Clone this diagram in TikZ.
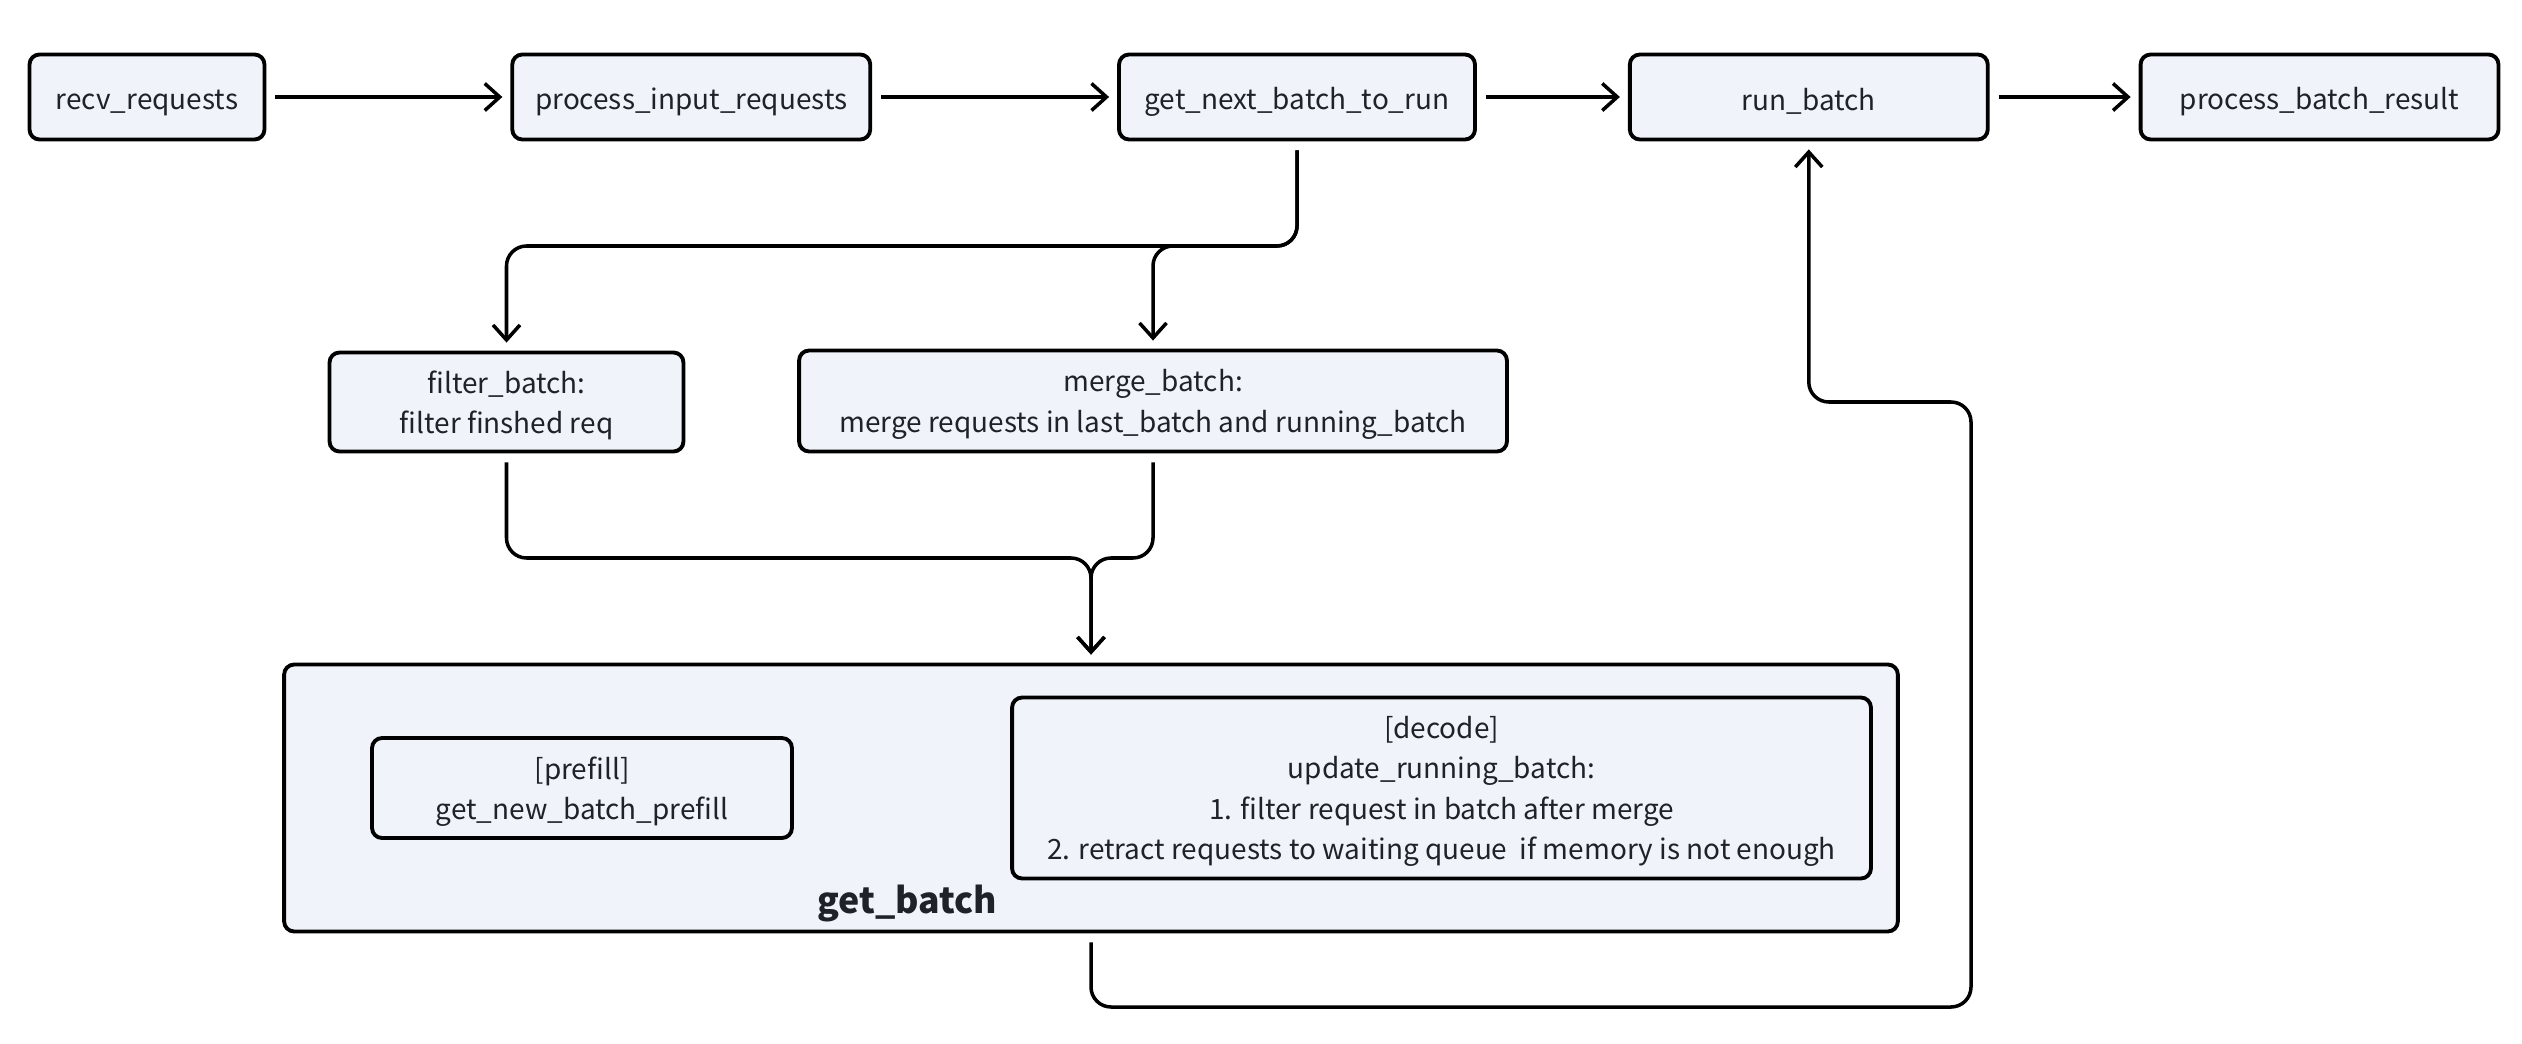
\documentclass[tikz,border=0pt]{standalone}
\usepackage{fontspec}
\setmainfont{Noto Sans CJK SC}
\usetikzlibrary{positioning}
\usetikzlibrary{arrows.meta}
\definecolor{boxfill}{HTML}{F0F3FA}
\definecolor{boxtext}{HTML}{1F2329}
\tikzset{
fn/.style={
  rectangle,rounded corners=0.2cm,
  draw=black,line width=2.2pt,
  fill=boxfill,text=boxtext,
  inner sep=0pt,
  %text width set per node
  align=center,
  minimum height=1.7cm,
  font=\fontsize{15.9}{23}\selectfont,
  execute at begin node={\rule{0pt}{1.12em}}
  },
fnlines/.style={
  fn,
  text depth=-0.1em
  },
link/.style={
  ->,line width=2pt,rounded corners=0.4cm,
  shorten <=0.18cm,shorten >=0.16cm
  }
}

\begin{document}
\begin{tikzpicture}[x=0.02cm,y=-0.02cm,>={Straight Barb[length=0.3cm,width=0.54cm]}]
    \useasboundingbox (0,0) rectangle (2522,1044);
    % main loop
    \node[fn,minimum width=4.7cm] (recv) at (147,97) {recv\_requests};
    \node[fn,minimum width=7.16cm] (procin) [right=4.88cm of recv] {process\_input\_requests};
    \node[fn,minimum width=7.12cm] (getnext) [right=4.9cm of procin] {get\_next\_batch\_to\_run};
    \node[fn,minimum width=7.16cm] (runb) [right=3.02cm of getnext] {run\_batch};
    \node[fn,minimum width=7.16cm] (procres) [right=2.98cm of runb] {process\_batch\_result};
    % batch preparation
    \node[fnlines,minimum width=7.08cm,minimum height=1.98cm] (filterb) at (506.5,402) {filter\_batch:\\filter finshed req};
    \node[fnlines,minimum width=14.16cm,minimum height=2.02cm] (mergeb) at (1153,401) {merge\_batch:\\merge requests in last\_batch and running\_batch};
    \node[fn,minimum width=32.28cm,minimum height=5.34cm] (getb) at (1091,798) {};
    \node[fnlines,minimum width=8.4cm,minimum height=2cm] (prefill) at (582,788) {[prefill]\\get\_new\_batch\_prefill};
    \node[fnlines,minimum width=17.18cm,minimum height=3.62cm] (decode) at (1441.5,788) {[decode]\\update\_running\_batch:\\1. filter request in batch after merge\\2. retract requests to waiting queue~ if memory is not enough};
    \node[text=boxtext,font=\fontsize{20.3}{25}\selectfont\bfseries] (getblabel) at (907,904) {get\_batch};
    \coordinate (split) at (getnext.south |- 0,246);
    \coordinate (join) at (getb.north |- 0,558);
    \coordinate (back1) at (getb.south |- 0,1007);
    \coordinate (back2) at (1971,1007);
    \coordinate (back3) at (1971,402);
    \coordinate (back4) at (runb.south |- 0,402);
    \draw[link] (recv) -- (procin);
    \draw[link] (procin) -- (getnext);
    \draw[link] (getnext) -- (runb);
    \draw[link] (runb) -- (procres);
    \draw[link] (getnext.south) -- (split) -| (filterb.north);
    \draw[link] (getnext.south) -- (split) -| (mergeb.north);
    \draw[link] (filterb.south) |- (join) -- (getb.north);
    \draw[link] (mergeb.south) |- (join) -- (getb.north);
    \draw[link] (getb.south) -- (back1) -- (back2) -- (back3) -- (back4) -- (runb.south);
\end{tikzpicture}
\end{document}
